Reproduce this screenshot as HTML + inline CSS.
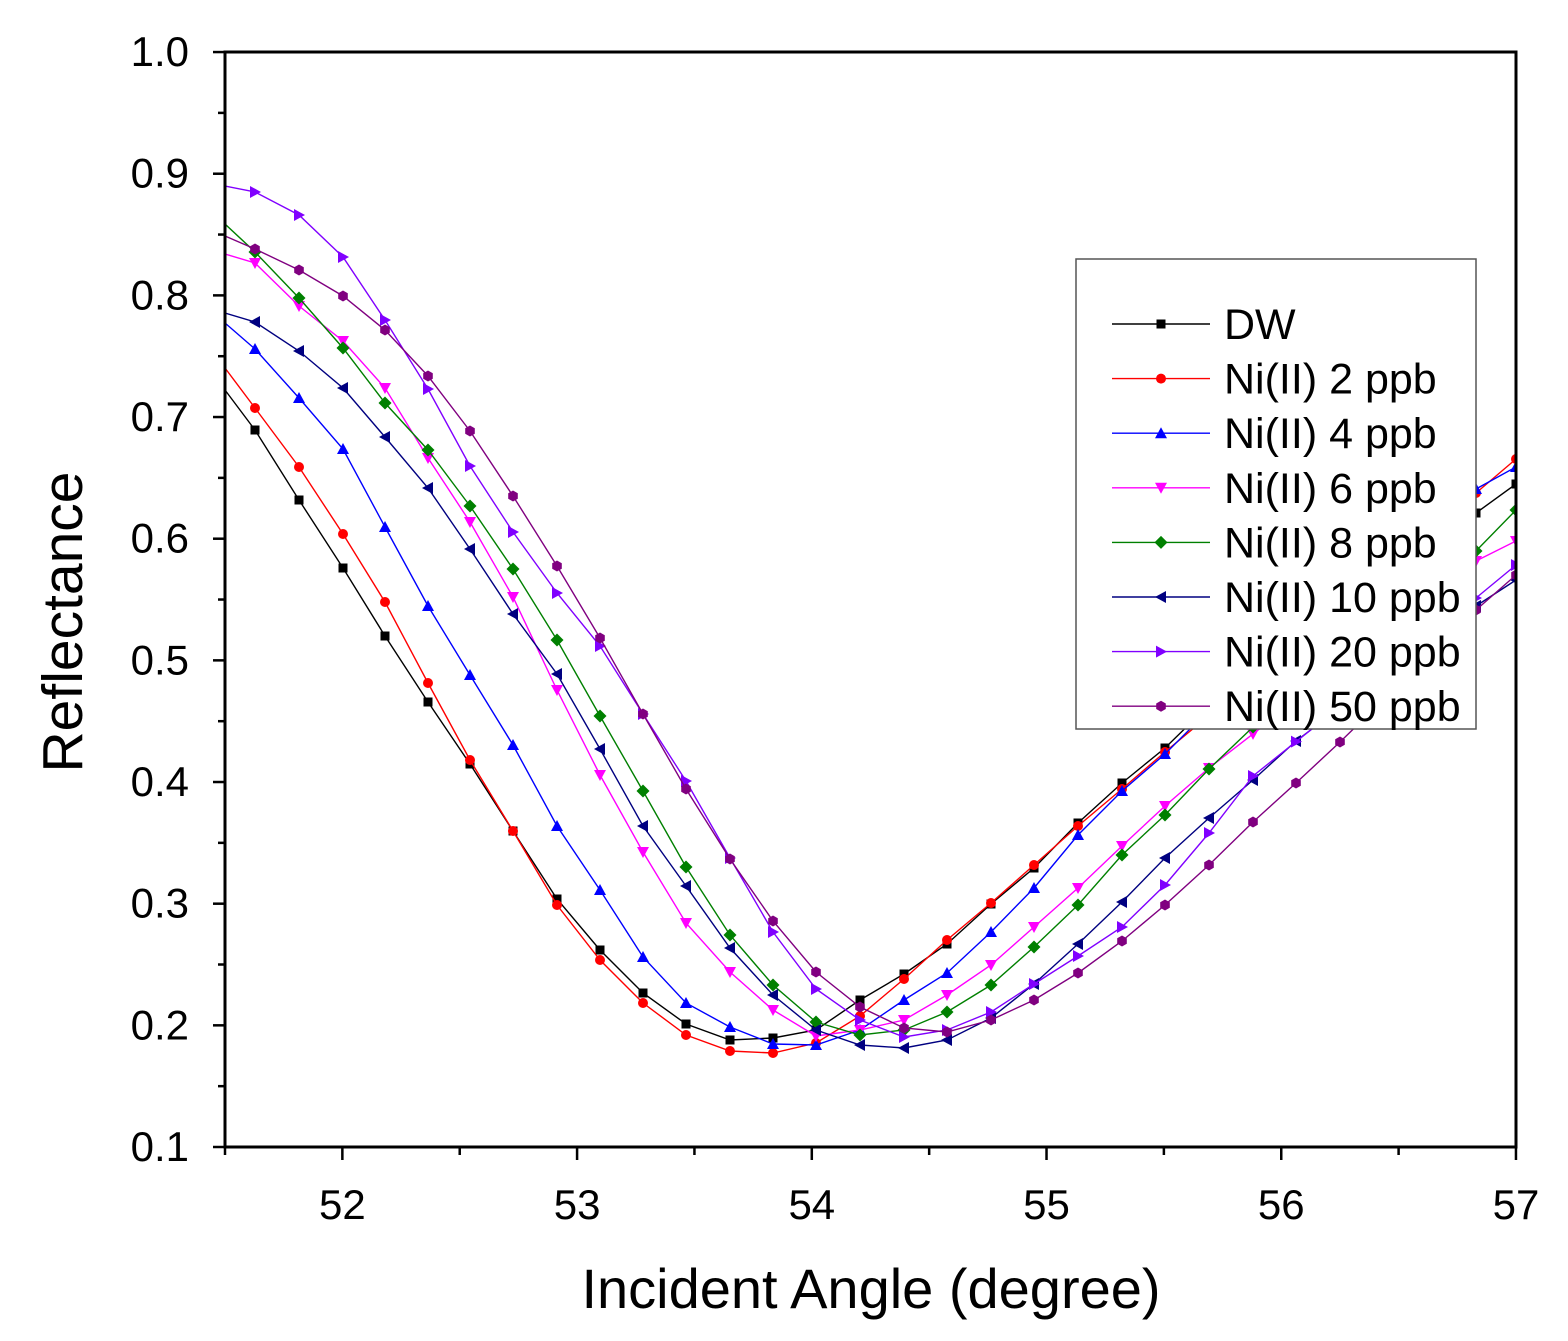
<!DOCTYPE html>
<html><head><meta charset="utf-8"><style>
html,body{margin:0;padding:0;background:#fff;}
svg{display:block;font-family:"Liberation Sans",sans-serif;}
</style></head><body>
<svg id="s" width="1568" height="1341" xmlns="http://www.w3.org/2000/svg"></svg>
<script>
const X=[225,255,299,343,385,428,470,513,557,600,643,686,730,773,816,860,904,947,991,1034,1078,1122,1165,1209,1253,1296,1340,1384,1427,1476,1516];
const S=[
 ["#000","sq",[390,430,500,568,636,702,764,831,899,950,993,1024,1040,1038,1030,1000,974,944,904,868,823,783,748,705,null,null,null,null,null,513,484]],
 ["#ff0000","ci",[368,408,467,534,602,683,760,831,905,960,1003,1035,1051,1053,1043,1016,979,940,903,865,826,789,752,null,null,null,null,null,null,493,459]],
 ["#0000ff","up",[323,349,398,449,527,606,675,745,826,890,957,1003,1027,1044,1045,1030,1000,973,932,888,835,791,754,710,null,null,null,null,null,489,467]],
 ["#ff00ff","dn",[254,263,306,341,388,458,522,597,690,775,852,923,972,1010,1036,1030,1020,995,965,927,888,846,806,768,null,null,null,null,null,561,541]],
 ["#008000","di",[224,252,298,348,403,450,506,569,640,716,791,867,935,985,1022,1035,1030,1012,985,947,905,855,815,769,727,null,null,null,null,551,510]],
 ["#000080","lt",[313,322,351,388,437,488,549,614,674,749,826,886,948,995,1030,1045,1048,1040,1018,984,944,902,858,818,780,741,null,null,null,606,580]],
 ["#8000ff","rt",[186,192,215,257,320,389,466,532,593,646,714,781,858,932,989,1020,1037,1030,1012,984,956,927,885,833,776,null,null,null,null,598,565]],
 ["#800080","hx",[236,249,270,296,330,376,431,496,566,638,714,789,859,921,972,1007,1028,1032,1020,1000,973,941,905,865,822,783,742,null,null,610,575]]
];
S.forEach(s=>{const y=s[2];for(let i=0;i<y.length;i++){if(y[i]==null){let a=i-1,b=i;while(y[b]==null)b++;for(let k=a+1;k<b;k++)y[k]=y[a]+(y[b]-y[a])*(X[k]-X[a])/(X[b]-X[a]);i=b;}}});
function mk(t,x,y,c){switch(t){
case"sq":return `<rect x="${x-4.5}" y="${y-4.5}" width="9" height="9" fill="${c}"/>`;
case"ci":return `<circle cx="${x}" cy="${y}" r="5" fill="${c}"/>`;
case"up":return `<polygon points="${x},${y-6} ${x-6},${y+5} ${x+6},${y+5}" fill="${c}"/>`;
case"dn":return `<polygon points="${x},${y+6} ${x-6},${y-5} ${x+6},${y-5}" fill="${c}"/>`;
case"di":return `<polygon points="${x},${y-6.5} ${x+6.5},${y} ${x},${y+6.5} ${x-6.5},${y}" fill="${c}"/>`;
case"lt":return `<polygon points="${x-6},${y} ${x+5},${y-6} ${x+5},${y+6}" fill="${c}"/>`;
case"rt":return `<polygon points="${x+6},${y} ${x-5},${y-6} ${x-5},${y+6}" fill="${c}"/>`;
case"hx":{let p=[];for(let k=0;k<6;k++){const a=Math.PI/3*k+Math.PI/6;p.push((x+5.5*Math.cos(a)).toFixed(1)+","+(y+5.5*Math.sin(a)).toFixed(1));}return `<polygon points="${p.join(" ")}" fill="${c}"/>`;}
}}
let h='<defs><clipPath id="c"><rect x="225" y="52" width="1291" height="1095"/></clipPath></defs><g clip-path="url(#c)">';
S.forEach(s=>{h+=`<polyline fill="none" stroke="${s[0]}" stroke-width="1.4" points="${X.map((x,i)=>x+","+s[2][i].toFixed(1)).join(" ")}"/>`;
 X.forEach((x,i)=>{if(i>0)h+=mk(s[1],x,s[2][i],s[0]);});});
h+='</g>';
h+='<rect x="225" y="52" width="1291" height="1095" fill="none" stroke="#000" stroke-width="3"/>';
for(let i=0;i<=18;i++){const y=1147-i*60.83;const maj=i%2==0;h+=`<line x1="225" x2="${maj?213:218}" y1="${y}" y2="${y}" stroke="#000" stroke-width="2.5"/>`;
 if(maj)h+=`<text x="189" y="${y+14}" font-size="42" text-anchor="end">${(0.1+i*0.05).toFixed(1)}</text>`;}
for(let i=0;i<=11;i++){const x=225+i*117.36;const maj=i%2==1;h+=`<line y1="1147" y2="${maj?1160:1155}" x1="${x}" x2="${x}" stroke="#000" stroke-width="2.5"/>`;
 if(maj)h+=`<text x="${x}" y="1219" font-size="42" text-anchor="middle">${51.5+i*0.5}</text>`;}
h+='<text x="871" y="1308" font-size="56" text-anchor="middle">Incident Angle (degree)</text>';
h+='<text transform="translate(82,622) rotate(-90)" font-size="57" text-anchor="middle">Reflectance</text>';
h+='<rect x="1076" y="259" width="400" height="470" fill="#fff" stroke="#555" stroke-width="1.5"/>';
const L=["DW","Ni(II) 2 ppb","Ni(II) 4 ppb","Ni(II) 6 ppb","Ni(II) 8 ppb","Ni(II) 10 ppb","Ni(II) 20 ppb","Ni(II) 50 ppb"];
L.forEach((t,i)=>{const y=324+i*54.6;const s=S[i];h+=`<line x1="1112" x2="1210" y1="${y}" y2="${y}" stroke="${s[0]}" stroke-width="1.4"/>`+mk(s[1],1161,y,s[0])+`<text x="1224" y="${y+15}" font-size="43">${t}</text>`;});
document.getElementById("s").innerHTML=h;
</script>
</body></html>
